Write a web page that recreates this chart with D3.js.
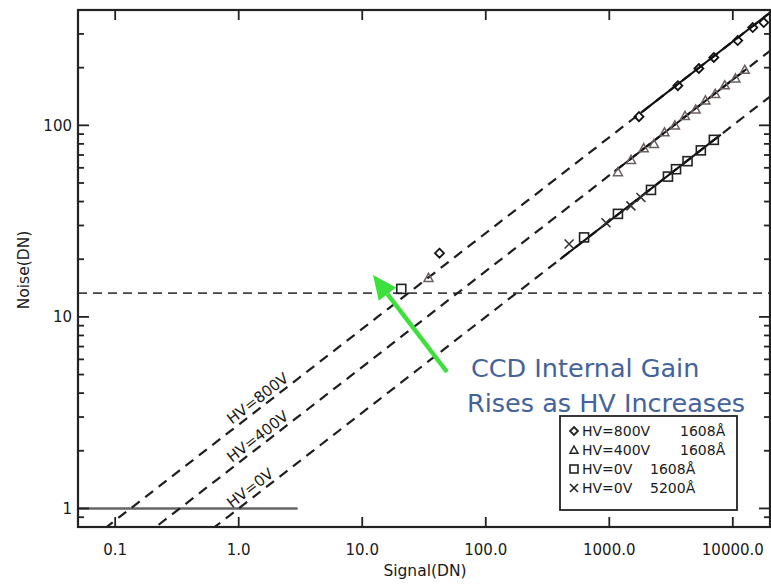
<!DOCTYPE html>
<html><head><meta charset="utf-8">
<script src="https://cdn.jsdelivr.net/npm/d3@7"></script>
<style>body{margin:0;background:#fff}svg{display:block}</style>
</head><body>
<svg id="c" width="771" height="584"></svg>
<script>
// ---- data ----
const xTicks = [0.1, 1, 10, 100, 1000, 10000];
const xTickLabels = ["0.1", "1.0", "10.0", "100.0", "1000.0", "10000.0"];
const yTicks = [1, 10, 100];
const yTickLabels = ["1", "10", "100"];
const gainLabels = ["HV=800V", "HV=400V", "HV=0V"];
const gains = [7.5, 3.0, 1.0];          // noise = sqrt(gain * signal)
const fitRanges = [[1800, 20000], [1100, 13000], [400, 8000]];
const hv800Signal = [42.2, 1740, 3590, 5310, 7020, 10960, 14500, 17800];
const hv800Noise  = [21.5, 111, 161, 198, 226, 277, 324, 344];
const hv400Signal = [34.4, 1175, 1500, 1900, 2300, 2800, 3400, 4100, 5000, 6000, 7200, 8600, 10500, 12500];
const hv400Noise  = [16.0, 57, 66, 76, 80, 92, 100, 112, 121, 135, 146, 162, 176, 195];
const hv0Signal   = [20.7, 625, 1175, 2175, 2985, 3470, 4300, 5510, 7020];
const hv0Noise    = [14.0, 26, 34.5, 46, 54, 59, 65, 74, 84];
const hv0rSignal  = [473, 940, 1496, 1803];
const hv0rNoise   = [24, 31, 38, 42];
const readNoiseLevel = 13.3;
const unitLevel = 1, unitLevelEnd = 3;
const legendNames = ["HV=800V", "HV=400V", "HV=0V", "HV=0V"];
const legendWaves = ["1608Å", "1608Å", "1608Å", "5200Å"];
const legendSymbols = ["diamond", "triangle", "square", "cross"];
const annotation = ["CCD Internal Gain", "Rises as HV Increases"];

// ---- layout ----
const svg = d3.select("#c");
const L = 78, R = 770, T = 10, B = 527;
const x = d3.scaleLog().domain([0.05, 20000]).range([L, R]);
const y = d3.scaleLog().domain([0.8, 400]).range([B, T]);
const axisFont = "DejaVu Sans, sans-serif";
const ink = "#1a1a1a";

svg.append("defs").append("clipPath").attr("id", "clip")
  .append("rect").attr("x", L).attr("y", T).attr("width", R - L).attr("height", B - T);

const plot = svg.append("g").attr("clip-path", "url(#clip)");

// horizontal reference lines
plot.append("line").attr("x1", L).attr("x2", R)
  .attr("y1", y(readNoiseLevel)).attr("y2", y(readNoiseLevel))
  .attr("stroke", "#444").attr("stroke-width", 1.8).attr("stroke-dasharray", "9,6");
plot.append("line").attr("x1", L).attr("x2", x(unitLevelEnd))
  .attr("y1", y(unitLevel)).attr("y2", y(unitLevel))
  .attr("stroke", "#666").attr("stroke-width", 2.4);

// gain lines
const sGrid = d3.range(0, 61).map(i => Math.pow(10, Math.log10(0.05) + i * (Math.log10(20000) - Math.log10(0.05)) / 60));
const line = d3.line().x(d => x(d[0])).y(d => y(d[1]));
gains.forEach((g, i) => {
  plot.append("path").attr("d", line(sGrid.map(s => [s, Math.sqrt(g * s)])))
    .attr("fill", "none").attr("stroke", "#1e1e1e").attr("stroke-width", 2.2).attr("stroke-dasharray", "10,7");
  const fr = fitRanges[i];
  plot.append("path").attr("d", line([[fr[0], Math.sqrt(g * fr[0])], [fr[1], Math.sqrt(g * fr[1])]]))
    .attr("fill", "none").attr("stroke", "#111").attr("stroke-width", 2);
  // label
  const s0 = 0.95, s1 = 10;
  const px0 = x(s0), py0 = y(Math.sqrt(g * s0));
  const ang = Math.atan2(y(Math.sqrt(g * s1)) - py0, x(s1) - px0) * 180 / Math.PI;
  svg.append("text").attr("transform", `translate(${px0},${py0}) rotate(${ang}) translate(-2,-4)`)
    .attr("font-family", axisFont).attr("font-size", 15).attr("fill", ink).text(gainLabels[i]);
});

// symbols
function sym(g, type, cx, cy, color, r) {
  r = r || 4;
  if (type === "diamond") {
    g.append("path").attr("d", `M${cx},${cy - r}L${cx + r},${cy}L${cx},${cy + r}L${cx - r},${cy}Z`)
      .attr("fill", "none").attr("stroke", color).attr("stroke-width", 1.8);
  } else if (type === "triangle") {
    g.append("path").attr("d", `M${cx},${cy - r}L${cx + r},${cy + r * 0.8}L${cx - r},${cy + r * 0.8}Z`)
      .attr("fill", "none").attr("stroke", color).attr("stroke-width", 1.5);
  } else if (type === "square") {
    g.append("rect").attr("x", cx - r).attr("y", cy - r).attr("width", 2 * r).attr("height", 2 * r)
      .attr("fill", "none").attr("stroke", color).attr("stroke-width", 1.6);
  } else {
    g.append("path").attr("d", `M${cx - r},${cy - r}L${cx + r},${cy + r}M${cx - r},${cy + r}L${cx + r},${cy - r}`)
      .attr("stroke", color).attr("stroke-width", 1.6);
  }
}
const pts = plot.append("g");
const series = [
  [hv800Signal, hv800Noise, "diamond", "#111"],
  [hv400Signal, hv400Noise, "triangle", "#6b5f60"],
  [hv0Signal, hv0Noise, "square", "#222"],
  [hv0rSignal, hv0rNoise, "cross", "#333"]
];
series.forEach(([sx, sy, t, c]) => sx.forEach((s, i) => sym(pts, t, x(s), y(sy[i]), c, 4.5)));

// axes frame
const ax = svg.append("g").attr("stroke", "#222");
ax.append("rect").attr("x", L).attr("y", T).attr("width", R - L).attr("height", B - T)
  .attr("fill", "none").attr("stroke-width", 2.2);
xTicks.forEach(t => {
  ax.append("line").attr("x1", x(t)).attr("x2", x(t)).attr("y1", B).attr("y2", B - 10).attr("stroke-width", 1.8);
  ax.append("line").attr("x1", x(t)).attr("x2", x(t)).attr("y1", T).attr("y2", T + 10).attr("stroke-width", 1.8);
});
const yMinor = [];
[0.1, 1, 10, 100].forEach(d => [2,3,4,5,6,7,8,9].forEach(m => { const v = d * m; if (v >= 0.8 && v <= 400 && !yTicks.includes(v)) yMinor.push(v); }));
yMinor.forEach(t => {
  ax.append("line").attr("x1", L).attr("x2", L + 6).attr("y1", y(t)).attr("y2", y(t)).attr("stroke-width", 1.8);
  ax.append("line").attr("x1", R).attr("x2", R - 6).attr("y1", y(t)).attr("y2", y(t)).attr("stroke-width", 1.8);
});
yTicks.forEach(t => {
  ax.append("line").attr("x1", L).attr("x2", L + 11).attr("y1", y(t)).attr("y2", y(t)).attr("stroke-width", 1.8);
  ax.append("line").attr("x1", R).attr("x2", R - 11).attr("y1", y(t)).attr("y2", y(t)).attr("stroke-width", 1.8);
});
xTicks.forEach((t, i) => svg.append("text").attr("x", x(t)).attr("y", 555).attr("text-anchor", "middle")
  .attr("font-family", axisFont).attr("font-size", 15).attr("fill", ink).text(xTickLabels[i]));
yTicks.forEach((t, i) => svg.append("text").attr("x", 72).attr("y", y(t) + 5.5).attr("text-anchor", "end")
  .attr("font-family", axisFont).attr("font-size", 15).attr("fill", ink).text(yTickLabels[i]));
svg.append("text").attr("x", 425).attr("y", 576).attr("text-anchor", "middle")
  .attr("font-family", axisFont).attr("font-size", 15.5).attr("fill", ink).text("Signal(DN)");
svg.append("text").attr("transform", "translate(29,270) rotate(-90)").attr("text-anchor", "middle")
  .attr("font-family", axisFont).attr("font-size", 15.5).attr("fill", ink).text("Noise(DN)");

// annotation
svg.append("text").attr("x", 471).attr("y", 377).attr("font-family", "DejaVu Sans, sans-serif")
  .attr("font-size", 25.5).attr("fill", "#44639a").text(annotation[0]);
svg.append("text").attr("x", 467).attr("y", 412).attr("font-family", "DejaVu Sans, sans-serif")
  .attr("font-size", 25.5).attr("fill", "#44639a").text(annotation[1]);
// green arrow
const ax0 = 447, ay0 = 372, ax1 = 373, ay1 = 275;
const aa = Math.atan2(ay1 - ay0, ax1 - ax0);
const hl = 24, hw = 11;
const bx = ax1 - hl * Math.cos(aa), by = ay1 - hl * Math.sin(aa);
svg.append("line").attr("x1", ax0).attr("y1", ay0).attr("x2", bx).attr("y2", by)
  .attr("stroke", "#3ee03e").attr("stroke-width", 4.5);
svg.append("path").attr("d", `M${ax1},${ay1}L${bx + hw * Math.sin(aa)},${by - hw * Math.cos(aa)}L${bx - hw * Math.sin(aa)},${by + hw * Math.cos(aa)}Z`)
  .attr("fill", "#3ee03e");

// legend
const lg = svg.append("g");
lg.append("rect").attr("x", 560).attr("y", 416).attr("width", 177).attr("height", 94)
  .attr("fill", "#fff").attr("stroke", "#222").attr("stroke-width", 1.8);
const waveX = [680, 680, 650, 650];
legendNames.forEach((n, i) => {
  const yy = 431 + i * 19;
  sym(lg, legendSymbols[i], 574, yy, "#222", 4);
  lg.append("text").attr("x", 582).attr("y", yy + 5).attr("font-family", axisFont)
    .attr("font-size", 14).attr("fill", ink).text(n);
  lg.append("text").attr("x", waveX[i]).attr("y", yy + 5).attr("font-family", axisFont)
    .attr("font-size", 14).attr("fill", ink).text(legendWaves[i]);
});
</script>
</body></html>
